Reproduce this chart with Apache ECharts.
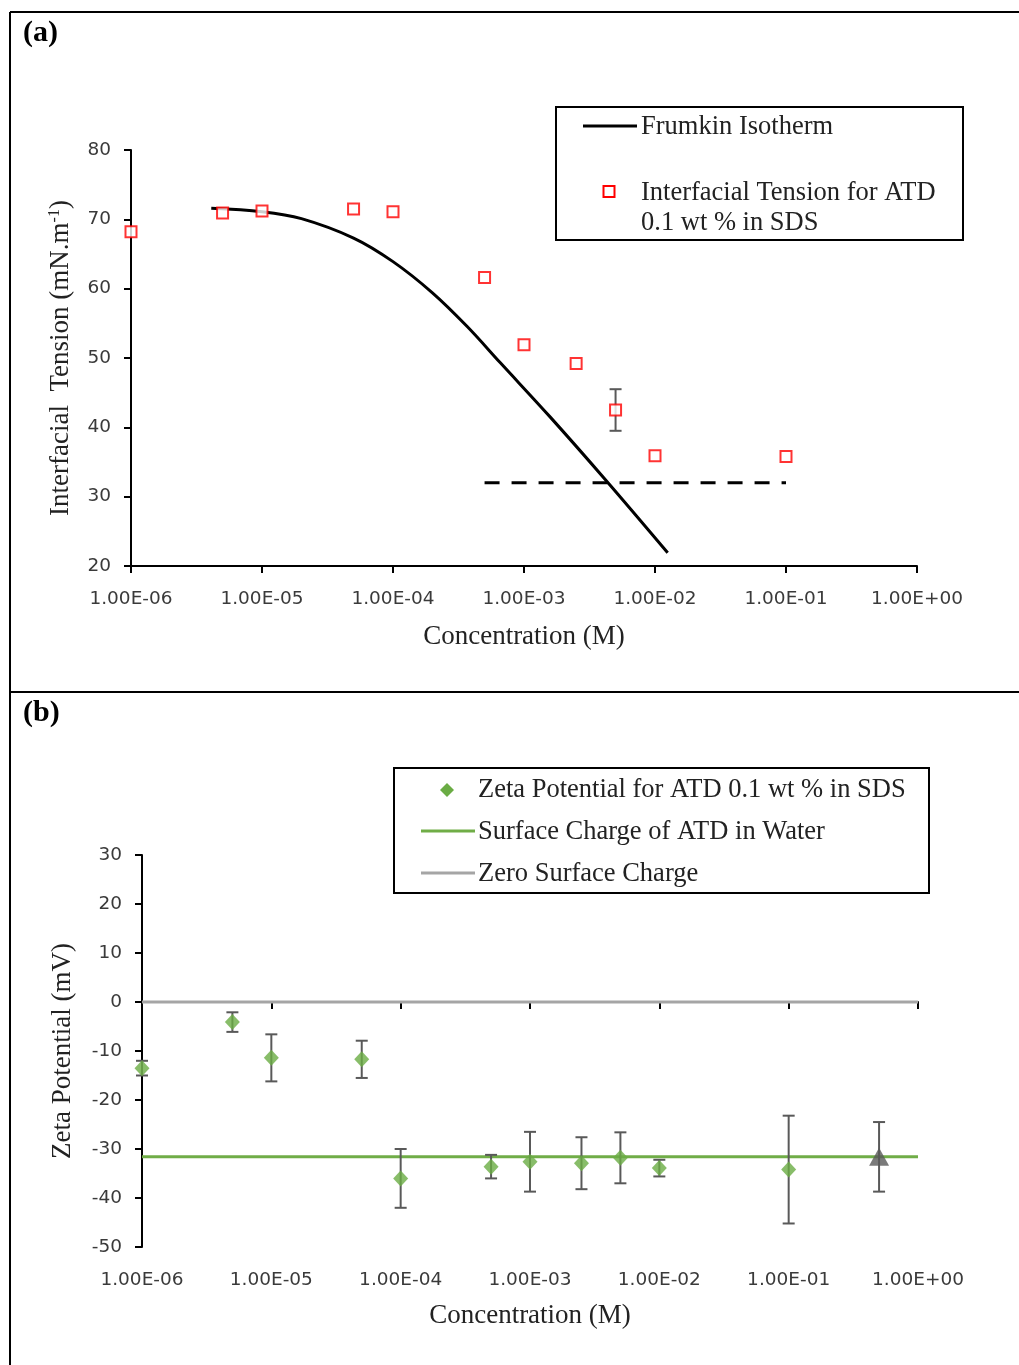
<!DOCTYPE html>
<html><head><meta charset="utf-8">
<script src="https://cdn.jsdelivr.net/npm/echarts@6/dist/echarts.min.js"></script>
<style>html,body{margin:0;padding:0;background:#fff}#c{width:1019px;height:1365px}</style>
</head><body><div id="c"></div>
<script>
// ---- Panel (a) data ----
const concA = [1e-6, 5e-6, 1e-5, 5e-5, 1e-4, 5e-4, 1e-3, 2.5e-3, 5e-3, 1e-2, 1e-1];
const tensionA = [68.2, 70.9, 71.2, 71.5, 71.1, 61.6, 51.9, 49.2, 42.5, 35.9, 35.8];
const tensionErrA = [null, null, null, null, null, null, null, null, 3.0, null, null];
const frumkinX = [4.1e-6, 1.0e-5, 2.0e-5, 5.0e-5, 1.0e-4, 2.0e-4, 3.7e-4, 6.6e-4, 1.6e-3, 4.2e-3, 1.25e-2];
const frumkinY = [71.6, 71.1, 70.1, 67.3, 63.9, 59.4, 54.5, 49.3, 41.4, 32.4, 21.9];
const cmcX = [5e-4, 1e-1];
const cmcY = [32.0, 32.0];
// ---- Panel (b) data ----
const concB = [1e-6, 5e-6, 1e-5, 5e-5, 1e-4, 5e-4, 1e-3, 2.5e-3, 5e-3, 1e-2, 1e-1];
const zetaB = [-13.5, -4.1, -11.4, -11.7, -36.0, -33.6, -32.6, -32.9, -31.8, -33.9, -34.2];
const zetaErrB = [1.5, 2.0, 4.8, 3.8, 6.0, 2.4, 6.1, 5.3, 5.2, 1.7, 11.0];
const waterConc = [0.5];
const waterZeta = [-31.6];
const waterErr = [7.1];
const waterLineX = [1e-6, 1];
const waterLineY = [-31.6, -31.6];
const zeroLineX = [1e-6, 1];
const zeroLineY = [0, 0];
// ---- ticks ----
const xMin = 1e-6, xMax = 1;
const yA = {min: 20, max: 80, interval: 10};
const yB = {min: -50, max: 30, interval: 10};

const chart = echarts.init(document.getElementById('c'), null, {renderer: 'canvas'});
const sans = 'DejaVu Sans';
const serif = 'Liberation Serif';
const tickColor = '#3a3a3a';

function fmtSci(v) {
  const e = Math.round(Math.log10(v));
  const s = e < 0 ? '-' : '+';
  const a = Math.abs(e);
  return '1.00E' + s + (a < 10 ? '0' + a : a);
}
function xAxisDef(gridIndex, labelMargin, nameGap) {
  return {
    type: 'log', logBase: 10, min: xMin, max: xMax, gridIndex,
    name: 'Concentration (M)', nameLocation: 'middle', nameGap,
    nameTextStyle: {fontFamily: serif, fontSize: 27, color: '#222'},
    axisLine: {lineStyle: {color: '#000', width: 2}},
    axisTick: {show: true, inside: false, length: 7, lineStyle: {color: '#000', width: 2}},
    minorTick: {show: false},
    axisLabel: {formatter: fmtSci, fontFamily: sans, fontSize: 18.5, color: tickColor, margin: labelMargin},
    splitLine: {show: false}
  };
}
function yAxisDef(gridIndex, range, name, nameGap, rich) {
  return {
    type: 'value', gridIndex, min: range.min, max: range.max, interval: range.interval,
    name, nameLocation: 'middle', nameGap, nameRotate: 90,
    nameTextStyle: {fontFamily: serif, fontSize: 27, color: '#222', rich},
    axisLine: {show: true, onZero: false, lineStyle: {color: '#000', width: 2}},
    axisTick: {show: true, inside: false, length: 7, lineStyle: {color: '#000', width: 2}},
    axisLabel: {fontFamily: sans, fontSize: 18.5, color: tickColor, margin: 20},
    splitLine: {show: false}
  };
}
function errSeries(xAxisIndex, yAxisIndex, xs, ys, errs) {
  const data = [];
  xs.forEach((x, i) => { if (errs[i] != null) data.push([x, ys[i], errs[i]]); });
  return {
    type: 'custom', xAxisIndex, yAxisIndex, silent: true, z: 3,
    data,
    renderItem: function (params, api) {
      const x = api.value(0), y = api.value(1), e = api.value(2);
      const top = api.coord([x, y + e]);
      const bot = api.coord([x, y - e]);
      const w = 6;
      const st = {stroke: '#595959', lineWidth: 2};
      return {type: 'group', children: [
        {type: 'line', shape: {x1: top[0], y1: top[1], x2: bot[0], y2: bot[1]}, style: st},
        {type: 'line', shape: {x1: top[0] - w, y1: top[1], x2: top[0] + w, y2: top[1]}, style: st},
        {type: 'line', shape: {x1: bot[0] - w, y1: bot[1], x2: bot[0] + w, y2: bot[1]}, style: st}
      ]};
    }
  };
}
const zip = (a, b) => a.map((v, i) => [v, b[i]]);

const frame = {stroke: '#000', lineWidth: 2};
const legendText = {fontFamily: serif, fontSize: 26.5, fill: '#222'};

chart.setOption({
  animation: false,
  backgroundColor: '#fff',
  grid: [
    {left: 131, top: 150, width: 786, height: 416},
    {left: 142, top: 855, width: 776, height: 392}
  ],
  xAxis: [xAxisDef(0, 24, 57), xAxisDef(1, 24, 55)],
  yAxis: [
    yAxisDef(0, yA, 'Interfacial  Tension (mN.m{sup|-1})', 56, {sup: {fontFamily: serif, fontSize: 16, color: '#222', padding: [0, 0, 12, 0]}}),
    yAxisDef(1, yB, 'Zeta Potential (mV)', 66)
  ],
  series: [
    {type: 'line', xAxisIndex: 0, yAxisIndex: 0, data: zip(frumkinX, frumkinY), smooth: 0.35, showSymbol: false,
      lineStyle: {color: '#000', width: 3}, z: 2},
    {type: 'line', xAxisIndex: 0, yAxisIndex: 0, data: zip(cmcX, cmcY), showSymbol: false,
      lineStyle: {color: '#000', width: 3, type: [15, 12]}, z: 2},
    errSeries(0, 0, concA, tensionA, tensionErrA),
    {type: 'scatter', xAxisIndex: 0, yAxisIndex: 0, data: zip(concA, tensionA), symbol: 'rect', symbolSize: 11,
      itemStyle: {color: '#fff', borderColor: '#ff0000', borderWidth: 2}, z: 4},

    {type: 'line', xAxisIndex: 1, yAxisIndex: 1, data: zip(zeroLineX, zeroLineY), showSymbol: false,
      lineStyle: {color: '#a5a5a5', width: 3}, z: 2},
    {type: 'line', xAxisIndex: 1, yAxisIndex: 1, data: zip(waterLineX, waterLineY), showSymbol: false,
      lineStyle: {color: '#70ad47', width: 3}, z: 2},
    errSeries(1, 1, concB, zetaB, zetaErrB),
    errSeries(1, 1, waterConc, waterZeta, waterErr),
    {type: 'scatter', xAxisIndex: 1, yAxisIndex: 1, data: zip(concB, zetaB), symbol: 'diamond', symbolSize: [15, 16],
      itemStyle: {color: '#6aac44'}, z: 4},
    {type: 'scatter', xAxisIndex: 1, yAxisIndex: 1, data: zip(waterConc, waterZeta), symbol: 'triangle', symbolSize: [20, 18],
      itemStyle: {color: '#595959'}, z: 4}
  ],
  graphic: [
    {type: 'line', shape: {x1: 10, y1: 12, x2: 1019, y2: 12}, style: frame},
    {type: 'line', shape: {x1: 10, y1: 12, x2: 10, y2: 1365}, style: frame},
    {type: 'line', shape: {x1: 10, y1: 692, x2: 1019, y2: 692}, style: frame},
    {type: 'text', left: 23, top: 18, style: {text: '(a)', fontFamily: serif, fontSize: 30, fontWeight: 'bold', fill: '#000'}},
    {type: 'text', left: 23, top: 698, style: {text: '(b)', fontFamily: serif, fontSize: 30, fontWeight: 'bold', fill: '#000'}},
    // legend (a)
    {type: 'rect', shape: {x: 556, y: 107, width: 407, height: 133}, style: {fill: '#fff', stroke: '#000', lineWidth: 2}, z: 10},
    {type: 'line', shape: {x1: 583, y1: 126, x2: 637, y2: 126}, style: {stroke: '#000', lineWidth: 3}, z: 11},
    {type: 'text', x: 641, y: 127, style: Object.assign({text: 'Frumkin Isotherm', verticalAlign: 'middle'}, legendText), z: 11},
    {type: 'rect', shape: {x: 603.5, y: 186, width: 11, height: 11}, style: {fill: '#fff', stroke: '#ff0000', lineWidth: 2}, z: 11},
    {type: 'text', x: 641, y: 193, style: Object.assign({text: 'Interfacial Tension for ATD', verticalAlign: 'middle'}, legendText), z: 11},
    {type: 'text', x: 641, y: 223, style: Object.assign({text: '0.1 wt % in SDS', verticalAlign: 'middle'}, legendText), z: 11},
    // legend (b)
    {type: 'rect', shape: {x: 394, y: 768, width: 535, height: 125}, style: {fill: '#fff', stroke: '#000', lineWidth: 2}, z: 10},
    {type: 'polygon', shape: {points: [[447, 783], [454, 790], [447, 797], [440, 790]]}, style: {fill: '#6aac44'}, z: 11},
    {type: 'text', x: 478, y: 790, style: Object.assign({text: 'Zeta Potential for ATD 0.1 wt % in SDS', verticalAlign: 'middle'}, legendText), z: 11},
    {type: 'line', shape: {x1: 421, y1: 831, x2: 475, y2: 831}, style: {stroke: '#70ad47', lineWidth: 3}, z: 11},
    {type: 'text', x: 478, y: 832, style: Object.assign({text: 'Surface Charge of ATD in Water', verticalAlign: 'middle'}, legendText), z: 11},
    {type: 'line', shape: {x1: 421, y1: 873, x2: 475, y2: 873}, style: {stroke: '#a5a5a5', lineWidth: 3}, z: 11},
    {type: 'text', x: 478, y: 874, style: Object.assign({text: 'Zero Surface Charge', verticalAlign: 'middle'}, legendText), z: 11}
  ]
});
</script>
</body></html>
